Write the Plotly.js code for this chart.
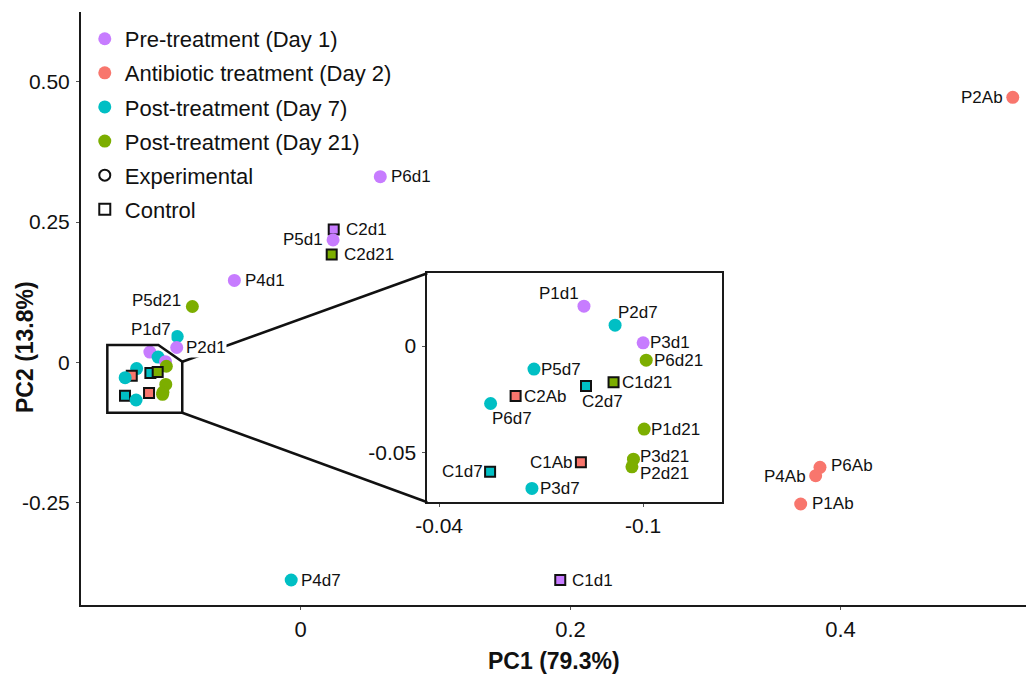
<!DOCTYPE html>
<html>
<head>
<meta charset="utf-8">
<script src="https://cdn.plot.ly/plotly-3.0.1.min.js"></script>
<style>html,body{margin:0;padding:0;background:#fff;}#chart{width:1026px;height:675px;}</style>
</head>
<body>
<div id="chart"></div>
<script>
// ---- data ----
const sampleNames = ['P2Ab','P6d1','C2d1','P5d1','C2d21','P4d1','P5d21','P1d7','P2d1','P4d7','C1d1','P6Ab','P4Ab','P1Ab',
  'P1d1','P2d7','P3d1','P6d21','P5d7','C2d7','C1d21','C2Ab','P6d7','P1d21','P3d21','P2d21','C1Ab','C1d7','P3d7'];
const pc1 = [0.5276,0.0591,0.0246,0.0241,0.0231,-0.0490,-0.0801,-0.0913,-0.0917,-0.0069,0.1924,0.3848,0.3816,0.3705,
  -0.1116,-0.1055,-0.1000,-0.0994,-0.1214,-0.1112,-0.1058,-0.1250,-0.1299,-0.0998,-0.1019,-0.1022,-0.1122,-0.1300,-0.1218];
const pc2 = [0.4722,0.3309,0.2369,0.2182,0.1924,0.1461,0.0998,0.0464,0.0268,-0.3871,-0.3871,-0.1865,-0.2014,-0.2518,
  0.0187,0.0098,0.0015,-0.0066,-0.0108,-0.0187,-0.0169,-0.0234,-0.0269,-0.0389,-0.0530,-0.0566,-0.0544,-0.0589,-0.0667];
const sampleDay = [2,1,1,1,21,1,21,7,1,7,1,2,2,2,
  1,7,1,21,7,7,21,2,7,21,21,21,2,7,7];
const sampleType = ['Experimental','Experimental','Control','Experimental','Control','Experimental','Experimental','Experimental','Experimental','Experimental','Control','Experimental','Experimental','Experimental',
  'Experimental','Experimental','Experimental','Experimental','Experimental','Control','Control','Control','Experimental','Experimental','Experimental','Experimental','Control','Control','Experimental'];

const dayNames = {1:'Pre-treatment (Day 1)', 2:'Antibiotic treatment (Day 2)', 7:'Post-treatment (Day 7)', 21:'Post-treatment (Day 21)'};
const dayOrder = [1,2,7,21];
const typeOrder = ['Experimental','Control'];

const mainXTicks = [0,0.2,0.4], mainXTickText = ['0','0.2','0.4'];
const mainYTicks = [0.5,0.25,0,-0.25], mainYTickText = ['0.50','0.25','0','-0.25'];
const insetXTicks = [-0.14,-0.1], insetXTickText = ['-0.04','-0.1'];
const insetYTicks = [0,-0.05], insetYTickText = ['0','-0.05'];

// ---- styles ----
const dayColors = {1:'#C77CFF', 2:'#F8766D', 7:'#00BFC4', 21:'#7CAE00'};
const typeSymbols = {Experimental:'circle', Control:'square'};
// label placement: [anchor side, x offset px, y offset px (down positive)]
const labelStyle = {
  P2Ab:['right',-9,0], P6d1:['left',10,0], C2d1:['left',11,0], P5d1:['right',-9,0], C2d21:['left',11,0],
  P4d1:['left',10,0], P5d21:['right',-10,-6], P1d7:['right',-5,-7], P2d1:['left',8,0], P4d7:['left',9,0],
  C1d1:['left',11,0], P6Ab:['left',10,-2], P4Ab:['right',-9,1], P1Ab:['left',10,0],
  P1d1:['right',-4,-13], P2d7:['left',2,-13], P3d1:['left',6,0], P6d21:['left',7,0], P5d7:['left',6,0],
  C2d7:['left',-5,16], C1d21:['left',7,0], C2Ab:['left',7,0], P6d7:['left',0,15], P1d21:['left',6,0],
  P3d21:['left',6,-3], P2d21:['left',7,7], C1Ab:['right',-7,0], C1d7:['right',-6,0], P3d7:['left',7,0]
};

const FONT = 'Liberation Sans, Arial, sans-serif';
const mainXRange = [-0.1626, 0.5374], mainYRange = [-0.4316, 0.624];
const insetXRange = [-0.1423, -0.0846], insetYRange = [-0.0732, 0.0341];
const insetDomX = [0.3665, 0.678], insetDomY = [0.1732, 0.5594];
// zoomed region drawn on main axes (rectangle with cut top-right corner)
const zoomBox = {x0:-0.1431, x1:-0.0876, y0:-0.0893, y1:0.0312, cutX:-0.1053, cutY:0.0015};

function inZoom(i) {
  const x = pc1[i], y = pc2[i], z = zoomBox;
  if (x < z.x0 || x > z.x1 || y < z.y0 || y > z.y1) return false;
  if (x > z.cutX) {
    const yLine = z.y1 + (x - z.cutX) / (z.x1 - z.cutX) * (z.cutY - z.y1);
    if (y > yLine) return false;
  }
  return true;
}
const idx = sampleNames.map((_, i) => i);
const zoomIdx = idx.filter(inZoom);
const outIdx = idx.filter(i => !inZoom(i));

function markerFor(ids) {
  return {
    color: ids.map(i => dayColors[sampleDay[i]]),
    symbol: ids.map(i => typeSymbols[sampleType[i]]),
    size: ids.map(i => sampleType[i] === 'Control' ? 10 : 13),
    opacity: 1,
    line: {color: '#111', width: ids.map(i => sampleType[i] === 'Control' ? 2 : 0)}
  };
}

const traces = [];
traces.push({
  type:'scatter', mode:'markers', xaxis:'x', yaxis:'y', showlegend:false, cliponaxis:false,
  x: idx.map(i => pc1[i]), y: idx.map(i => pc2[i]), text: idx.map(i => sampleNames[i]), hoverinfo:'text',
  marker: markerFor(idx)
});
traces.push({
  type:'scatter', mode:'markers', xaxis:'x2', yaxis:'y2', showlegend:false, cliponaxis:false,
  x: zoomIdx.map(i => pc1[i]), y: zoomIdx.map(i => pc2[i]), text: zoomIdx.map(i => sampleNames[i]), hoverinfo:'text',
  marker: markerFor(zoomIdx)
});
dayOrder.forEach(d => traces.push({
  type:'scatter', mode:'markers', x:[null], y:[null], name: dayNames[d], legendgroup:'d'+d,
  marker:{color: dayColors[d], size: 13, symbol:'circle', opacity:1}
}));
typeOrder.forEach(t => traces.push({
  type:'scatter', mode:'markers', x:[null], y:[null], name: t, legendgroup:'t'+t,
  marker:{color:'#fff', size: 11, symbol: typeSymbols[t], line:{color:'#111', width:2}}
}));

function labelAnn(i, xr, yr, bg) {
  const s = labelStyle[sampleNames[i]];
  return {text: sampleNames[i], x: pc1[i], y: pc2[i], xref: xr, yref: yr, showarrow:false,
    xanchor: s[0], yanchor:'middle', xshift: s[1], yshift: -s[2], borderpad:0,
    bgcolor: bg, font:{family: FONT, size:17, color:'#111'}};
}

const toPaperX = v => (v - mainXRange[0]) / (mainXRange[1] - mainXRange[0]);
const toPaperY = v => (v - mainYRange[0]) / (mainYRange[1] - mainYRange[0]);
const zb = zoomBox;
const shapes = [
  {type:'path', xref:'x', yref:'y', line:{color:'#111', width:2.5},
   path:`M ${zb.x0} ${zb.y1} L ${zb.cutX} ${zb.y1} L ${zb.x1} ${zb.cutY} L ${zb.x1} ${zb.y0} L ${zb.x0} ${zb.y0} Z`},
  {type:'line', xref:'paper', yref:'paper', line:{color:'#111', width:2.5},
   x0: toPaperX(zb.x1), y0: toPaperY(zb.cutY), x1: insetDomX[0], y1: insetDomY[1]},
  {type:'line', xref:'paper', yref:'paper', line:{color:'#111', width:2.5},
   x0: toPaperX(zb.x1), y0: toPaperY(zb.y0), x1: insetDomX[0], y1: insetDomY[0]}
];

const axisCommon = {showgrid:false, zeroline:false, showline:true, linecolor:'#1a1a1a', linewidth:2,
  ticks:'outside', ticklen:3, tickwidth:1, tickcolor:'#555', tickmode:'array'};

const annotations = []
  .concat(outIdx.map(i => labelAnn(i, 'x', 'y', '#fff')))
  .concat(zoomIdx.map(i => labelAnn(i, 'x2', 'y2', 'rgba(0,0,0,0)')))
  .concat([
    {text:'<b>PC1 (79.3%)</b>', xref:'paper', yref:'paper', x:0.5, y:-0.094, xanchor:'center', yanchor:'middle',
     showarrow:false, font:{family: FONT, size:23, color:'#111'}},
    {text:'<b>PC2 (13.8%)</b>', xref:'paper', yref:'paper', x:-0.0593, y:0.435, xanchor:'center', yanchor:'middle',
     textangle:-90, showarrow:false, font:{family: FONT, size:23, color:'#111'}}
  ]);

const layout = {
  width:1026, height:675, margin:{l:81, r:0, t:12, b:70},
  paper_bgcolor:'#fff', plot_bgcolor:'#fff',
  font:{family: FONT, color:'#111'},
  xaxis: Object.assign({}, axisCommon, {range: mainXRange, tickvals: mainXTicks, ticktext: mainXTickText,
    tickfont:{family: FONT, size:22, color:'#111'}, ticklabelstandoff:1}),
  yaxis: Object.assign({}, axisCommon, {range: mainYRange, tickvals: mainYTicks, ticktext: mainYTickText,
    tickfont:{family: FONT, size:21, color:'#111'}, ticklabelstandoff:2}),
  xaxis2: Object.assign({}, axisCommon, {domain: insetDomX, anchor:'y2', range: insetXRange, mirror:true,
    tickvals: insetXTicks, ticktext: insetXTickText, tickfont:{family: FONT, size:21, color:'#111'}, ticklabelstandoff:1}),
  yaxis2: Object.assign({}, axisCommon, {domain: insetDomY, anchor:'x2', range: insetYRange, mirror:true,
    tickvals: insetYTicks, ticktext: insetYTickText, tickfont:{family: FONT, size:21, color:'#111'}, ticklabelstandoff:2}),
  showlegend:true,
  legend:{x:0.004, y:0.99, xanchor:'left', yanchor:'top', bgcolor:'rgba(0,0,0,0)',
    font:{family: FONT, size:22, color:'#111'}, traceorder:'grouped', tracegroupgap:2.5, itemclick:false},
  shapes: shapes,
  annotations: annotations
};

Plotly.newPlot('chart', traces, layout, {staticPlot:true, displayModeBar:false});
</script>
</body>
</html>
